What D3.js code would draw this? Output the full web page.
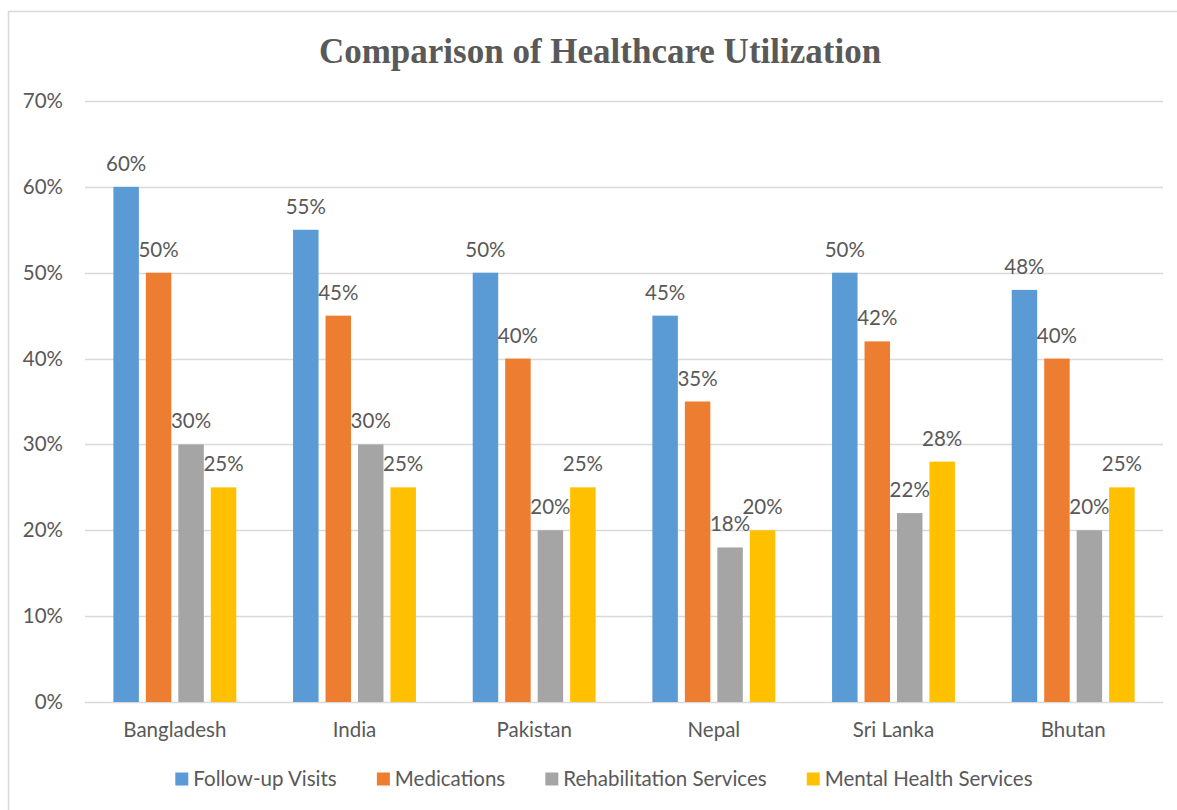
<!DOCTYPE html>
<html><head><meta charset="utf-8">
<script src="https://cdn.jsdelivr.net/npm/d3@7"></script>
<style>body{margin:0;background:#fff;}svg{display:block;}</style>
</head><body>
<svg id="chart" width="1177" height="810"></svg>
<script>
const categories = ["Bangladesh","India","Pakistan","Nepal","Sri Lanka","Bhutan"];
const seriesNames = ["Follow-up Visits","Medications","Rehabilitation Services","Mental Health Services"];
const followUp = [60,55,50,45,50,48];
const medications = [50,45,40,35,42,40];
const rehab = [30,30,20,18,22,20];
const mental = [25,25,25,20,28,25];
const yTicks = [0,10,20,30,40,50,60,70];
const colors = ["#5B9BD5","#ED7D31","#A5A5A5","#FFC000"];
const seriesValues = [followUp, medications, rehab, mental];

const svg = d3.select("#chart");
const font = "Lato, 'Open Sans', sans-serif";
const fs = 20.5;
const textColor = "#595959";

svg.append("rect").attr("x",8.5).attr("y",11.5).attr("width",1200).attr("height",820)
  .attr("fill","#fff").attr("stroke","#d9d9d9").attr("stroke-width",1.5);

const plotLeft = 85, plotRight = 1163, plotTop = 101, plotBottom = 702;
const y = d3.scaleLinear().domain([0,70]).range([plotBottom, plotTop]);
const x0 = d3.scaleBand().domain(categories).range([plotLeft,plotRight]).paddingInner(0.316).paddingOuter(0.158);
const x1 = d3.scaleBand().domain(seriesNames).range([0, x0.bandwidth()]).paddingInner(0.215);

svg.append("text").attr("x",600).attr("y",63).attr("text-anchor","middle")
  .attr("font-family","'Liberation Serif', 'Times New Roman', serif").attr("font-weight","bold")
  .attr("font-size",35).attr("fill",textColor).text("Comparison of Healthcare Utilization");

const grid = svg.append("g");
grid.selectAll("line").data(yTicks).join("line")
  .attr("x1",plotLeft).attr("x2",plotRight)
  .attr("y1",d=>Math.round(y(d))+0.5).attr("y2",d=>Math.round(y(d))+0.5)
  .attr("stroke","#d9d9d9").attr("stroke-width",1.5);

const yAxis = d3.axisLeft(y).tickValues(yTicks).tickFormat(d=>d+"%").tickSize(0).tickPadding(0);
const ya = svg.append("g").attr("transform",`translate(63,0)`).call(yAxis);
ya.select(".domain").remove();
ya.selectAll("text").attr("font-family",font).attr("font-size",fs).attr("fill",textColor);

const xAxis = d3.axisBottom(x0).tickSize(0).tickPadding(0);
const xa = svg.append("g").attr("transform",`translate(0,${plotBottom+20})`).call(xAxis);
xa.select(".domain").remove();
xa.selectAll("text").attr("font-family",font).attr("font-size",fs).attr("fill",textColor);

const data = [];
categories.forEach((c,i)=>seriesNames.forEach((s,j)=>data.push({c,s,j,v:seriesValues[j][i]})));
svg.append("g").selectAll("rect").data(data).join("rect")
  .attr("x",d=>x0(d.c)+x1(d.s)).attr("width",x1.bandwidth())
  .attr("y",d=>y(d.v)).attr("height",d=>y(0)-y(d.v))
  .attr("fill",d=>colors[d.j]);
svg.append("g").selectAll("text").data(data).join("text")
  .attr("x",d=>x0(d.c)+x1(d.s)+x1.bandwidth()/2).attr("y",d=>y(d.v)-16)
  .attr("text-anchor","middle").attr("font-family",font).attr("font-size",fs).attr("fill",textColor)
  .text(d=>d.v+"%");

const lg = svg.append("g");
const items = lg.selectAll("g").data(seriesNames).join("g");
items.append("rect").attr("width",13).attr("height",13).attr("y",-6.5).attr("fill",(d,i)=>colors[i]);
items.append("text").attr("x",18).attr("dy","0.35em").attr("font-family",font).attr("font-size",fs)
  .attr("fill",textColor).text(d=>d);
let xpos = 0;
items.each(function(){
  const w = this.getBBox().width;
  d3.select(this).attr("transform",`translate(${xpos},0)`);
  xpos += w + 40;
});
const total = xpos - 40;
lg.attr("transform",`translate(${604 - total/2},779)`);
</script>
</body></html>
